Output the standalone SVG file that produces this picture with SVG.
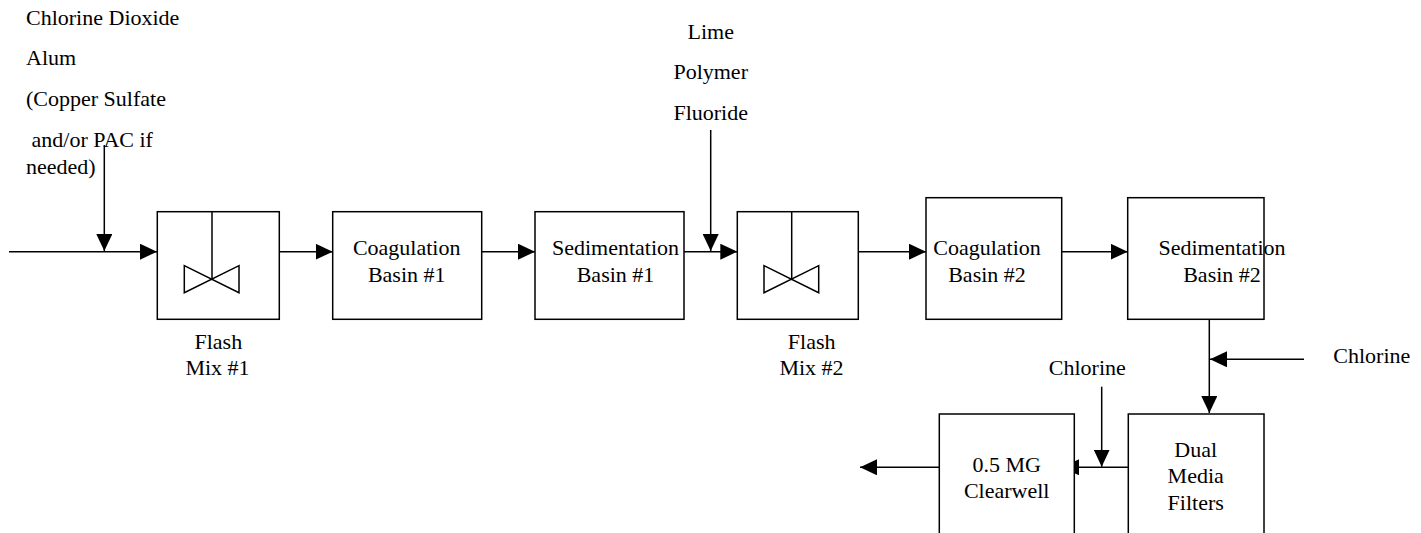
<svg xmlns="http://www.w3.org/2000/svg" width="1421" height="533" viewBox="0 0 1421 533">
<style>
.box{fill:#fff;stroke:#000;stroke-width:1.5}
.ln{fill:none;stroke:#000;stroke-width:1.5}
.ar{fill:none;stroke:#000;stroke-width:1.5;marker-end:url(#ah)}
text{font-family:'Liberation Serif','DejaVu Serif',serif;font-size:22px;fill:#000}
.c{text-anchor:middle}
</style>
<defs>
<marker id="ah" viewBox="0 0 17 16" refX="17" refY="8" markerWidth="17" markerHeight="16" markerUnits="userSpaceOnUse" orient="auto">
<path d="M0,0 L17,8 L0,16 Z" fill="#000"/>
</marker>
</defs>
<rect width="1421" height="533" fill="#fff"/>
<g id="connectors">
<line class="ar" x1="9" y1="251.7" x2="157" y2="251.7"/>
<line class="ar" x1="104.3" y1="145" x2="104.3" y2="251"/>
<line class="ar" x1="265.3" y1="251.7" x2="332.7" y2="251.7"/>
<line class="ar" x1="481.7" y1="251.7" x2="535" y2="251.7"/>
<line class="ar" x1="684" y1="251.7" x2="737.3" y2="251.7"/>
<line class="ar" x1="710.7" y1="130" x2="710.7" y2="251"/>
<line class="ar" x1="858.3" y1="251.7" x2="926" y2="251.7"/>
<line class="ar" x1="1061.7" y1="251.7" x2="1127.7" y2="251.7"/>
<line class="ar" x1="1209.3" y1="319.3" x2="1209.3" y2="413"/>
<line class="ar" x1="1304" y1="359.3" x2="1210" y2="359.3"/>
<line class="ar" x1="1128.3" y1="467.3" x2="1062" y2="467.3"/>
<line class="ar" x1="1101.7" y1="386.7" x2="1101.7" y2="466.7"/>
<line class="ar" x1="939.3" y1="467.3" x2="860" y2="467.3"/>
</g>
<g id="chem1">
<text x="26" y="25">Chlorine Dioxide</text>
<text x="26" y="65">Alum</text>
<text x="26" y="106">(Copper Sulfate</text>
<text x="26" y="147" xml:space="preserve"> and/or PAC if</text>
<text x="26" y="174">needed)</text>
</g>
<g id="flashmix1">
<rect class="box" x="157.3" y="211.7" width="122" height="107.6"/>
<line class="ln" x1="212" y1="211.7" x2="212" y2="279"/>
<path class="ln" d="M184.3,265.7 L239,292.7 L239,265.7 L184.3,292.7 Z"/>
<text class="c" x="218.3" y="349">Flash</text>
<text class="c" x="217.5" y="375">Mix #1</text>
</g>
<g id="coag1">
<rect class="box" x="332.7" y="211.7" width="149" height="107.6"/>
<text class="c" x="406.7" y="255">Coagulation</text>
<text class="c" x="406.7" y="281.7">Basin #1</text>
</g>
<g id="sed1">
<rect class="box" x="535" y="211.7" width="149" height="107.6"/>
<text class="c" x="615.5" y="255">Sedimentation</text>
<text class="c" x="615.5" y="281.7">Basin #1</text>
</g>
<g id="chem2">
<text class="c" x="710.7" y="39">Lime</text>
<text class="c" x="710.7" y="79">Polymer</text>
<text class="c" x="710.7" y="120">Fluoride</text>
</g>
<g id="flashmix2">
<rect class="box" x="737.3" y="211.7" width="121" height="107.6"/>
<line class="ln" x1="791.7" y1="211.7" x2="791.7" y2="279"/>
<path class="ln" d="M764,265.7 L818.7,292.7 L818.7,265.7 L764,292.7 Z"/>
<text class="c" x="811.7" y="349">Flash</text>
<text class="c" x="811.5" y="375">Mix #2</text>
</g>
<g id="coag2">
<rect class="box" x="926" y="197.7" width="135.7" height="121.6"/>
<text class="c" x="987" y="255">Coagulation</text>
<text class="c" x="987" y="281.7">Basin #2</text>
</g>
<g id="sed2">
<rect class="box" x="1127.7" y="197.7" width="136.3" height="121.6"/>
<text class="c" x="1222" y="255">Sedimentation</text>
<text class="c" x="1222" y="281.7">Basin #2</text>
</g>
<g id="chlorine1">
<text x="1333.3" y="362.7">Chlorine</text>
</g>
<g id="chlorine2">
<text class="c" x="1087.3" y="375">Chlorine</text>
</g>
<g id="filters">
<rect class="box" x="1128.3" y="414" width="135.7" height="140"/>
<text class="c" x="1195.7" y="456.7">Dual</text>
<text class="c" x="1195.7" y="483.3">Media</text>
<text class="c" x="1195.7" y="510">Filters</text>
</g>
<g id="clearwell">
<rect class="box" x="939.3" y="414" width="135" height="140"/>
<text class="c" x="1006.7" y="471.7">0.5 MG</text>
<text class="c" x="1006.7" y="497.7">Clearwell</text>
</g>
</svg>
